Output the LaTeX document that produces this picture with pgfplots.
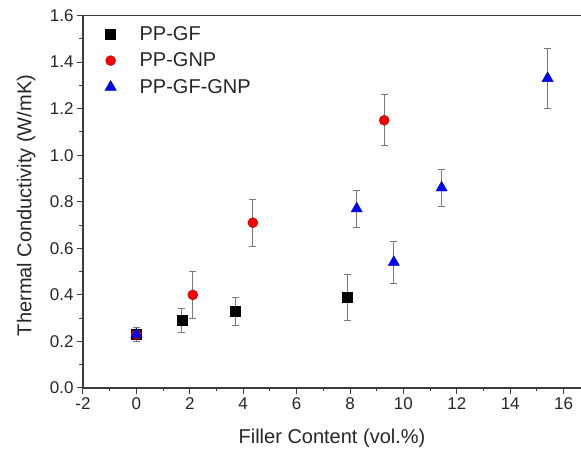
\documentclass[border=0pt]{standalone}
\usepackage{pgfplots}
\pgfplotsset{compat=1.18}
\usepackage{fontspec}
\setmainfont{Liberation Sans}
\definecolor{axgray}{RGB}{60,60,60}
\definecolor{errgray}{RGB}{120,120,120}
\begin{document}
\begin{tikzpicture}[x=1pt,y=1pt]
\useasboundingbox (-83,-64) rectangle (498,388);
\begin{axis}[
  scale only axis, width=498pt, height=372.5pt,
  at={(0,0)}, anchor=south west,
  xmin=-2, xmax=16.65, ymin=0, ymax=1.6,
  axis lines=left,
  axis line style={-, line width=1.2pt, axgray},
  xtick={-2,0,2,4,6,8,10,12,14,16},
  ytick={0,0.2,0.4,0.6,0.8,1.0,1.2,1.4,1.6},
  minor x tick num=1, minor y tick num=1,
  tick align=outside, major tick length=6pt, minor tick length=3.5pt,
  tick style={line width=1pt, axgray},
  /pgf/number format/assume math mode=true,
  yticklabel style={/pgf/number format/fixed, /pgf/number format/fixed zerofill, /pgf/number format/precision=1},
  ticklabel style={font=\fontsize{17}{17}\selectfont, text=black!85},
  xlabel={Filler Content (vol.\%)},
  ylabel={Thermal Conductivity (W/mK)},
  label style={font=\fontsize{20}{20}\selectfont, text=black!85},
  xlabel style={at={(axis description cs:0.5,-0.134)}, anchor=center},
  ylabel style={at={(axis description cs:-0.114,0.49)}, anchor=center},
  legend style={draw=none, fill=none, at={(axis description cs:0.025,0.982)}, anchor=north west, font=\fontsize{20}{20}\selectfont, row sep=7pt, text=black!85},
  legend image code/.code={\path[draw=none, fill=none] (0pt,-5pt) rectangle (39pt,5pt); \draw[#1] plot coordinates {(12pt,0pt)};},
  legend cell align=left,
  clip=false,
]
\addplot[only marks, mark=square*, mark size=5pt, black, mark options={fill=black},
  error bars/.cd, y dir=both, y explicit,
  error bar style={errgray, line width=0.8pt},
  error mark options={rotate=90, errgray, mark size=3.5pt, line width=0.8pt}]
  table[x=x, y=y, y error=e] {
x y e
0 0.23 0.03
1.70 0.29 0.05
3.70 0.33 0.06
7.91 0.39 0.10
};
\addlegendentry{PP-GF}
\addplot[only marks, mark=*, mark size=5pt, draw=red!60!black, mark options={fill=red},
  error bars/.cd, y dir=both, y explicit,
  error bar style={errgray, line width=0.8pt},
  error mark options={rotate=90, errgray, mark size=3.5pt, line width=0.8pt}]
  table[x=x, y=y, y error=e] {
x y e
0 0.23 0.03
2.11 0.40 0.10
4.36 0.71 0.10
9.28 1.15 0.11
};
\addlegendentry{PP-GNP}
\addplot[only marks, mark=triangle*, mark size=6.5pt, draw=blue!60!black, mark options={fill=blue},
  error bars/.cd, y dir=both, y explicit,
  error bar style={errgray, line width=0.8pt},
  error mark options={rotate=90, errgray, mark size=3.5pt, line width=0.8pt}]
  table[x=x, y=y, y error=e] {
x y e
0 0.23 0.03
8.25 0.77 0.08
9.64 0.54 0.09
11.43 0.86 0.08
15.40 1.33 0.13
};
\addlegendentry{PP-GF-GNP}
\draw[line width=1.2pt, axgray] (rel axis cs:0,1) -- (rel axis cs:1,1);
\end{axis}
\end{tikzpicture}
\end{document}
